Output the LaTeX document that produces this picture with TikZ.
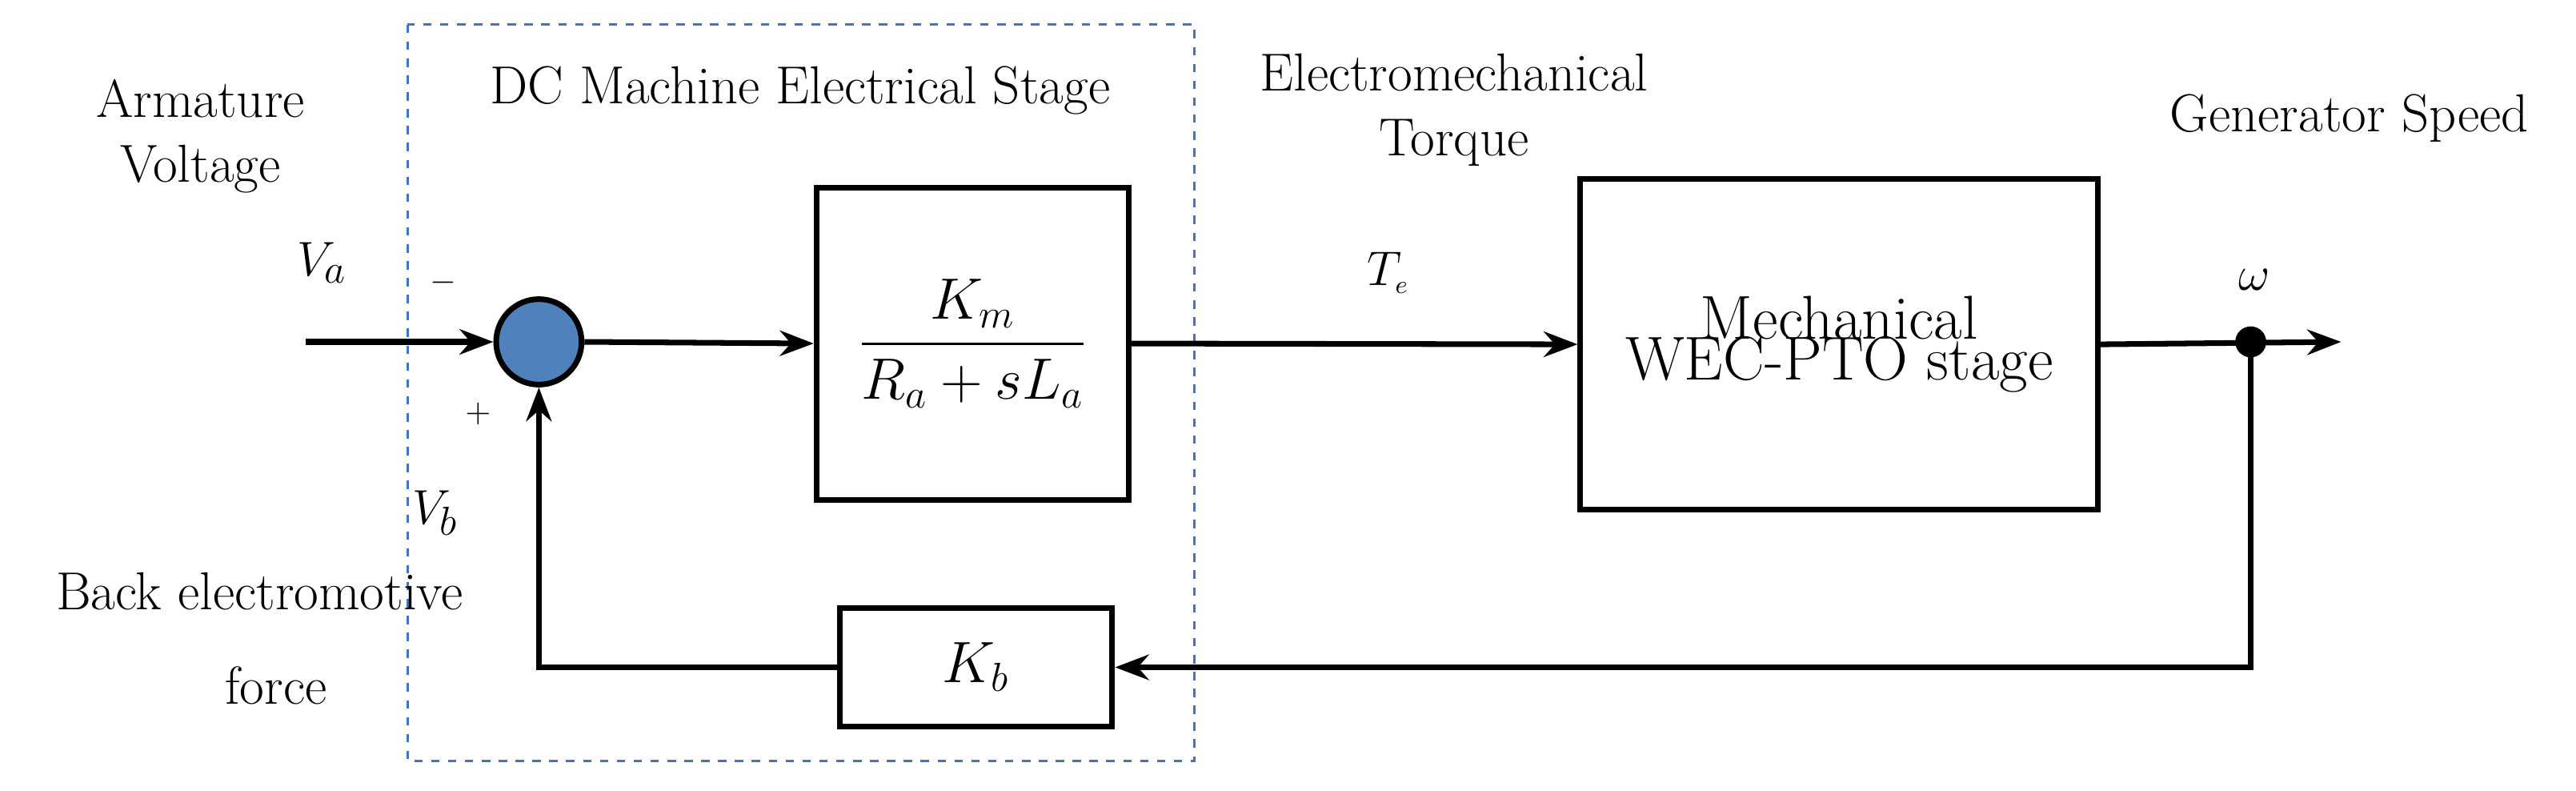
\documentclass[tikz,border=0pt]{standalone}
\usepackage{amsmath}
\usetikzlibrary{arrows.meta}
\definecolor{sumblue}{RGB}{79,129,189}
\definecolor{dashblue}{RGB}{68,114,196}
\begin{document}
\begin{tikzpicture}[x=0.02053cm,y=-0.02053cm,
  ln/.style={line width=2pt},
  arr/.style={ln,-{Stealth[length=12pt,width=9pt]}},
  blk/.style={draw,line width=2pt,inner sep=0pt},
  lbl/.style={font=\fontsize{19}{23}\selectfont,align=center},
  sm/.style={font=\fontsize{12}{14}\selectfont}]
\useasboundingbox (0,0) rectangle (1568,480.8);
\draw[dashblue,dashed,line width=0.9pt] (248,15) rectangle (727,463);
\node[circle,draw,line width=2pt,fill=sumblue,minimum size=52*0.02053cm,inner sep=0pt] (sum) at (328,208) {};
\node[blk,minimum width=190*0.02053cm,minimum height=190*0.02053cm] (g1) at (592,209)
  {\fontsize{21}{25}\selectfont$\dfrac{K_m}{R_a+sL_a}$};
\node[blk,minimum width=315*0.02053cm,minimum height=201*0.02053cm,align=center] (g2) at (1119.5,209.5)
  {\fontsize{22}{27}\selectfont Mechanical\\[-2pt]\fontsize{22}{27}\selectfont WEC-PTO stage};
\node[blk,minimum width=166*0.02053cm,minimum height=72*0.02053cm] (kb) at (594,406)
  {\fontsize{21}{25}\selectfont$K_b$};
\coordinate (in) at (186,208);
\coordinate (out) at (1425,208);
\coordinate (dot) at (1370,208);
\coordinate (c1) at (1370,406);
\coordinate (c2) at (328,406);
\draw[arr] (in) -- (sum.west);
\draw[arr] (sum.east) -- (g1.west);
\draw[arr] (g1.east) -- (g2.west);
\draw[arr] (g2.east) -- (out);
\fill (dot) circle (5.5pt);
\draw[ln,-{Stealth[length=12pt,width=9pt]}] (dot) -- (c1) -- (kb.east);
\draw[ln,-{Stealth[length=12pt,width=9pt]}] (kb.west) -- (c2) -- (sum.south);
\node[lbl] (t1) at (122,83) {Armature\\Voltage};
\node[lbl] (t2) at (196,160) {$V_a$};
\node[sm] (t3) at (270,172) {$-$};
\node[sm] (t4) at (291,252) {$+$};
\node[lbl] (t5) at (265,312) {$V_b$};
\node[lbl] (t6) at (158,360) {Back electromotive};
\node[lbl] (t7) at (168,417) {force};
\node[lbl] (t8) at (487,55) {DC Machine Electrical Stage};
\node[lbl] (t9) at (885,67) {Electromechanical\\Torque};
\node[lbl] (t10) at (845,166) {$T_{\scriptscriptstyle e}$};
\node[lbl] (t11) at (1430,72) {Generator Speed};
\node[lbl] (t12) at (1372,170) {$\omega$};
\end{tikzpicture}
\end{document}
